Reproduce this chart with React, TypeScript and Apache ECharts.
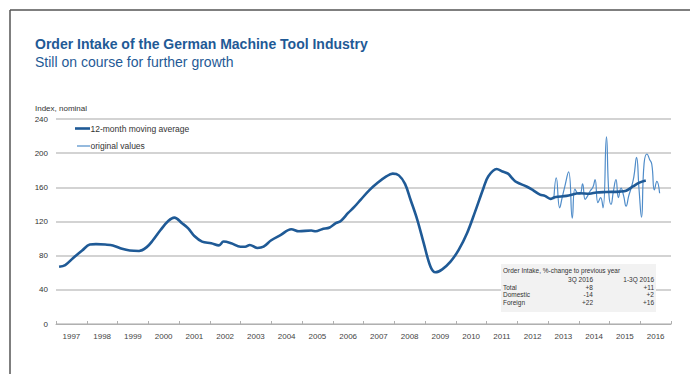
import React, { useEffect, useRef } from "react";
import * as echarts from "echarts";

const yearLabels = ["1997","1998","1999","2000","2001","2002","2003","2004","2005","2006","2007","2008","2009","2010","2011","2012","2013","2014","2015","2016"];

// 12-month moving average (time in decimal years, index value)
const maTimes = [1997.1,1997.3,1997.55,1997.85,1998.1,1998.3,1998.6,1998.85,1999.15,1999.4,1999.7,1999.95,2000.15,2000.4,2000.65,2000.85,2001.1,2001.3,2001.5,2001.75,2002.05,2002.3,2002.45,2002.7,2003.0,2003.15,2003.3,2003.55,2003.75,2004.0,2004.3,2004.65,2004.9,2005.3,2005.45,2005.65,2005.9,2006.1,2006.27,2006.5,2006.7,2006.92,2007.2,2007.45,2007.73,2007.95,2008.15,2008.35,2008.53,2008.75,2008.96,2009.18,2009.34,2009.56,2009.83,2010.1,2010.37,2010.63,2010.9,2011.06,2011.33,2011.52,2011.7,2011.85,2011.98,2012.3,2012.52,2012.74,2012.9,2013.08,2013.22,2013.6,2014.03,2014.35,2014.57,2014.89,2015.33,2015.54,2015.76,2015.97,2016.18];
const maValues = [67,69,77,86,93,93.5,93,92,88,86,85.5,90,98,110,120.5,124.5,118,112,103,96.5,94.5,92,96.5,94.5,90.5,90.5,92.5,89,90.5,98,104,111,108.5,109.5,108.5,111,113,118,121,130,137,146,157,165,172.5,176,174,164,145.5,122,94.5,67,60.5,64,73,87,106.5,131.5,159,173,181.5,178.5,176,170,166,161,156.5,151.5,150,146.5,148.5,150,153,152.5,154,154.5,155,156,161,165.5,168];

// original monthly values
const origTimes = [2013.19,2013.27,2013.38,2013.46,2013.54,2013.67,2013.79,2013.875,2013.96,2014.04,2014.125,2014.21,2014.29,2014.375,2014.46,2014.53,2014.625,2014.71,2014.79,2014.9,2014.98,2015.05,2015.125,2015.21,2015.29,2015.375,2015.46,2015.54,2015.625,2015.71,2015.79,2015.88,2015.96,2016.04,2016.125,2016.22,2016.3,2016.375,2016.46,2016.54,2016.63];
const origValues = [146,171,136,148,160,178,124,158,153,152,164,146,150,156,160,169,142,148,136,219,152,140,155,169,148,159,150,138,150,160,172,195,158,125,188,199,193,187,157,167,153];

const seriesNames = ["12-month moving average", "original values"];

const tableTitle = "Order Intake, %-change to previous year";
const tableHeaders = ["3Q 2016", "1-3Q 2016"];
const tableRows = ["Total", "Domestic", "Foreign"];
const q3Values = ["+8", "-14", "+22"];
const ytdValues = ["+11", "+2", "+16"];

const BLUE_DARK = "#1f5a96";
const BLUE_LIGHT = "#4f8cc9";
const FONT = "Liberation Sans, Arial, sans-serif";

export default function App() {
  const ref = useRef<HTMLDivElement>(null);
  useEffect(() => {
    if (!ref.current) return;
    const chart = echarts.init(ref.current, null, { renderer: "svg" });
    const tableX = 501, tableY = 264, tableW = 155, tableH = 48;
    const col1 = 593, col2 = 654;
    const tfont = `6.5px ${FONT}`;
    const tableGraphics: any[] = [
      { type: "rect", shape: { x: tableX, y: tableY, width: tableW, height: tableH }, style: { fill: "#f2f2f2" }, z: 10 },
      { type: "text", x: tableX + 2, y: 270, style: { text: tableTitle, fill: "#333", font: tfont, textVerticalAlign: "middle" }, z: 11 },
      { type: "text", x: col1, y: 279, style: { text: tableHeaders[0], fill: "#333", font: tfont, textAlign: "right", textVerticalAlign: "middle" }, z: 11 },
      { type: "text", x: col2, y: 279, style: { text: tableHeaders[1], fill: "#333", font: tfont, textAlign: "right", textVerticalAlign: "middle" }, z: 11 },
    ];
    tableRows.forEach((r, i) => {
      const y = 287.5 + i * 7.4;
      tableGraphics.push(
        { type: "text", x: tableX + 2, y, style: { text: r, fill: "#333", font: tfont, textVerticalAlign: "middle" }, z: 11 },
        { type: "text", x: col1, y, style: { text: q3Values[i], fill: "#333", font: tfont, textAlign: "right", textVerticalAlign: "middle" }, z: 11 },
        { type: "text", x: col2, y, style: { text: ytdValues[i], fill: "#333", font: tfont, textAlign: "right", textVerticalAlign: "middle" }, z: 11 }
      );
    });

    chart.setOption({
      animation: false,
      backgroundColor: "#ffffff",
      textStyle: { fontFamily: FONT },
      grid: { left: 56, right: 19, top: 119, bottom: 50, containLabel: false },
      xAxis: [
        {
          type: "value",
          min: 1997,
          max: 2017,
          interval: 1,
          axisLine: { show: true, lineStyle: { color: "#b0b0b0", width: 1 } },
          axisTick: { show: true, inside: true, length: 3, lineStyle: { color: "#b0b0b0" } },
          axisLabel: { show: false },
          splitLine: { show: false },
        },
        {
          type: "category",
          position: "bottom",
          data: yearLabels,
          boundaryGap: true,
          axisLine: { show: false },
          axisTick: { show: false },
          axisLabel: { fontSize: 8, color: "#444", margin: 8, fontFamily: FONT },
        },
      ],
      yAxis: {
        type: "value",
        min: 0,
        max: 240,
        interval: 40,
        axisLine: { show: false },
        axisTick: { show: false },
        axisLabel: { fontSize: 8, color: "#333", margin: 8, fontFamily: FONT },
        splitLine: { lineStyle: { color: "#c4c4c4", width: 1.5 } },
      },
      series: [
        {
          name: seriesNames[1],
          type: "line",
          xAxisIndex: 0,
          data: origTimes.map((t, i) => [t, origValues[i]]),
          symbol: "none",
          smooth: 0.5,
          lineStyle: { color: BLUE_LIGHT, width: 1.2 },
          itemStyle: { color: BLUE_LIGHT },
          z: 2,
        },
        {
          name: seriesNames[0],
          type: "line",
          xAxisIndex: 0,
          data: maTimes.map((t, i) => [t, maValues[i]]),
          symbol: "none",
          smooth: 0.35,
          lineStyle: { color: BLUE_DARK, width: 2.6 },
          itemStyle: { color: BLUE_DARK },
          z: 3,
        },
      ],
      graphic: [
        { type: "line", shape: { x1: 10, y1: 10, x2: 690, y2: 10 }, style: { stroke: "#555", lineWidth: 1.5 } },
        { type: "line", shape: { x1: 10, y1: 10, x2: 10, y2: 374 }, style: { stroke: "#555", lineWidth: 1.5 } },
        { type: "text", x: 35, y: 44, style: { text: "Order Intake of the German Machine Tool Industry", font: `bold 14px ${FONT}`, fill: BLUE_DARK, textVerticalAlign: "middle" } },
        { type: "text", x: 35, y: 62, style: { text: "Still on course for further growth", font: `14px ${FONT}`, fill: BLUE_DARK, textVerticalAlign: "middle" } },
        { type: "text", x: 35, y: 108, style: { text: "Index, nominal", font: `8px ${FONT}`, fill: "#333", textVerticalAlign: "middle" } },
        // legend
        { type: "line", shape: { x1: 75, y1: 128.5, x2: 90, y2: 128.5 }, style: { stroke: BLUE_DARK, lineWidth: 2.6 }, z: 5 },
        { type: "text", x: 90.5, y: 128.5, style: { text: seriesNames[0], font: `8.5px ${FONT}`, fill: "#333", textVerticalAlign: "middle" }, z: 5 },
        { type: "line", shape: { x1: 77, y1: 146, x2: 90, y2: 146 }, style: { stroke: BLUE_LIGHT, lineWidth: 1.2 }, z: 5 },
        { type: "text", x: 90.5, y: 146, style: { text: seriesNames[1], font: `8.5px ${FONT}`, fill: "#333", textVerticalAlign: "middle" }, z: 5 },
        ...tableGraphics,
      ],
    });
    return () => chart.dispose();
  }, []);
  return <div ref={ref} style={{ position: "fixed", left: 0, top: 0, width: 690, height: 374 }} />;
}
